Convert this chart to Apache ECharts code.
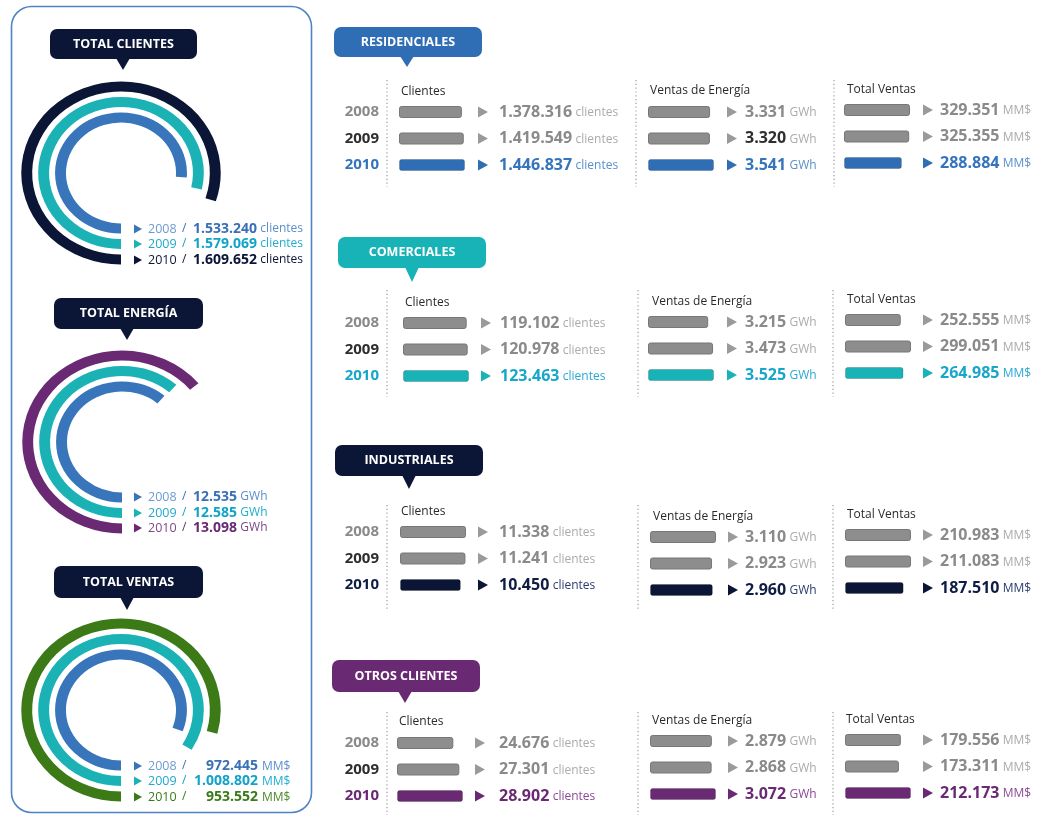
<!DOCTYPE html>
<html>
<head>
<meta charset="utf-8">
<script src="https://cdn.jsdelivr.net/npm/echarts@6/dist/echarts.min.js"></script>
<style>
  html, body { margin: 0; padding: 0; background: #ffffff; }
  #main { width: 1038px; height: 815px; }
</style>
</head>
<body>
<div id="main"></div>
<script>
// ---- data ----
const years = ['2008', '2009', '2010'];

// company totals (rings on the left)
const totalClientes = [1533240, 1579069, 1609652];
const totalEnergia = [12535, 12585, 13098];   // GWh
const totalVentas = [972445, 1008802, 953552]; // MM$

// per segment: clients, energy sales (GWh), total sales (MM$)
const segmentNames = ['RESIDENCIALES', 'COMERCIALES', 'INDUSTRIALES', 'OTROS CLIENTES'];
const resClientes = [1378316, 1419549, 1446837];
const resEnergia = [3331, 3320, 3541];
const resVentas = [329351, 325355, 288884];
const comClientes = [119102, 120978, 123463];
const comEnergia = [3215, 3473, 3525];
const comVentas = [252555, 299051, 264985];
const indClientes = [11338, 11241, 10450];
const indEnergia = [3110, 2923, 2960];
const indVentas = [210983, 211083, 187510];
const otrClientes = [24676, 27301, 28902];
const otrEnergia = [2879, 2868, 3072];
const otrVentas = [179556, 173311, 212173];

const columnTitles = ['Clientes', 'Ventas de Energía', 'Total Ventas'];
const units = ['clientes', 'GWh', 'MM$'];
const ringTitles = ['TOTAL CLIENTES', 'TOTAL ENERGÍA', 'TOTAL VENTAS'];

// ---- styling / layout ----
const FONT = '"Open Sans", "Noto Sans", sans-serif';
const GRAY_BAR = '#8d8d8d';
const GRAY_TXT = '#8a8a8a';
const GRAY_UNIT = '#ababab';
const DARK_TXT = '#2e2e2e';

const segColors = [
  { main: '#2f6db5', text: '#3574bd', unit: '#5a8fcc' },
  { main: '#17b3b7', text: '#18a6c9', unit: '#2aa8d4' },
  { main: '#0b1535', text: '#0f1d45', unit: '#2a3c70' },
  { main: '#6a2a73', text: '#6a2a73', unit: '#8a4a94' }
];
const segData = [
  [resClientes, resEnergia, resVentas],
  [comClientes, comEnergia, comVentas],
  [indClientes, indEnergia, indVentas],
  [otrClientes, otrEnergia, otrVentas]
];

const ROW_STEP = 26.5;
const BAR_SPAN = 66;
const segLayout = [
  { head: { x: 334, y: 27, w: 148, h: 30, tipX: 407, tipY: 67 }, lineY: [80, 187], cols: [
    { line: 387, titleX: 401, titleY: 92, barX: 399, rowY: 112, tri: 478, val: 499 },
    { line: 636, titleX: 650, titleY: 91, barX: 648, rowY: 112, tri: 727, val: 745 },
    { line: 834, titleX: 847, titleY: 90, barX: 844, rowY: 110, tri: 923, val: 940 }] },
  { head: { x: 338, y: 237, w: 148, h: 31, tipX: 412, tipY: 282 }, lineY: [290, 397], cols: [
    { line: 387, titleX: 405, titleY: 303, barX: 403, rowY: 323, tri: 481, val: 500 },
    { line: 638, titleX: 652, titleY: 302, barX: 648, rowY: 322, tri: 727, val: 745 },
    { line: 833, titleX: 847, titleY: 300, barX: 845, rowY: 320, tri: 923, val: 940 }] },
  { head: { x: 335, y: 445, w: 148, h: 31, tipX: 409, tipY: 489 }, lineY: [505, 610], cols: [
    { line: 387, titleX: 401, titleY: 512, barX: 400, rowY: 532, tri: 478, val: 499 },
    { line: 638, titleX: 653, titleY: 517, barX: 650, rowY: 537, tri: 728, val: 745 },
    { line: 833, titleX: 847, titleY: 515, barX: 845, rowY: 535, tri: 923, val: 940 }] },
  { head: { x: 332, y: 660, w: 148, h: 32, tipX: 405, tipY: 703 }, lineY: [712, 815], cols: [
    { line: 387, titleX: 399, titleY: 722, barX: 397, rowY: 743, tri: 475, val: 499 },
    { line: 638, titleX: 652, titleY: 721, barX: 650, rowY: 741, tri: 728, val: 745 },
    { line: 833, titleX: 846, titleY: 720, barX: 845, rowY: 740, tri: 923, val: 940 }] }
];

// rings: 2008 inner, 2009 middle, 2010 outer
const ringColors2008 = { ring: '#3875ba', year: '#6f9bd0', value: '#3a70b5', unit: '#5b8fcc' };
const ringColors2009 = { ring: '#1bb2b6', year: '#1fa9d0', value: '#12a4c8', unit: '#21aed0' };
const ringOuter = [
  { ring: '#0b1535', year: '#0b1535', value: '#0b1535', unit: '#0b1535' },
  { ring: '#6a2a73', year: '#7a4a84', value: '#6a2a73', unit: '#7a4a84' },
  { ring: '#3b7a17', year: '#3b7a17', value: '#3b7a17', unit: '#4b8a27' }
];
const ringSets = [totalClientes, totalEnergia, totalVentas];
const ringMax = [2012000, 20500, 1204500];
const RING_STRETCH = 1.09;   // rings are drawn slightly wider than tall
const RING_THICK = 10;
const ringLayout = [
  { cx: 121, cy: 173, head: { x: 50, y: 29, w: 147, h: 30, tipX: 123, tipY: 70 }, rows: [229, 244, 260], rightAlign: false },
  { cx: 122, cy: 442, head: { x: 54, y: 298, w: 149, h: 31, tipX: 127, tipY: 340 }, rows: [497, 513, 528], rightAlign: false },
  { cx: 121, cy: 710, head: { x: 54, y: 566, w: 149, h: 32, tipX: 127, tipY: 610 }, rows: [766, 781, 797], rightAlign: true }
];

function fmt(n) {
  return String(n).replace(/\B(?=(\d{3})+(?!\d))/g, '.');
}

// ---- graphic helpers ----
const graphics = [];

function callout(h, color, text) {
  graphics.push({
    type: 'rect', shape: { x: h.x, y: h.y, width: h.w, height: h.h, r: 7 },
    style: { fill: color }, z: 10
  });
  graphics.push({
    type: 'polygon',
    shape: { points: [[h.tipX - 7, h.y + h.h - 1], [h.tipX + 7, h.y + h.h - 1], [h.tipX, h.tipY]] },
    style: { fill: color }, z: 10
  });
  graphics.push({
    type: 'text', x: h.x + h.w / 2, y: h.y + h.h / 2, z: 11,
    style: { text: text, fill: '#ffffff', font: 'bold 12.5px ' + FONT, align: 'center', verticalAlign: 'middle' }
  });
}

function triangle(x, y, size, color) {
  graphics.push({
    type: 'polygon',
    shape: { points: [[x, y - size * 0.55], [x + size, y], [x, y + size * 0.55]] },
    style: { fill: color }, z: 10
  });
}

// left panel frame
graphics.push({
  type: 'rect', shape: { x: 11.5, y: 6.5, width: 300, height: 806, r: 20 },
  style: { fill: 'none', stroke: '#4f83c4', lineWidth: 1.6 }, z: 1
});

// ---- option pieces ----
const grids = [], xAxes = [], yAxes = [], series = [];
const polars = [], angleAxes = [], radiusAxes = [];

// ring arcs: each arc starts at the bottom and sweeps clockwise to the
// point the polar axes give for its value
function ringRenderer(palette) {
  return function (params, api) {
    const cs = params.coordSys;
    const idx = api.value(0);
    const pt = api.coord([idx, api.value(1)]);
    const dx = pt[0] - cs.cx, dy = pt[1] - cs.cy;
    const rr = Math.sqrt(dx * dx + dy * dy);
    let end = Math.atan2(dy, dx);
    while (end <= Math.PI / 2 + 1e-6) end += Math.PI * 2;
    return {
      type: 'sector',
      shape: {
        cx: cs.cx, cy: cs.cy, r0: rr - RING_THICK / 2, r: rr + RING_THICK / 2,
        startAngle: Math.PI / 2, endAngle: end, clockwise: true
      },
      originX: cs.cx, originY: cs.cy, scaleX: RING_STRETCH,
      style: { fill: palette[idx].ring }
    };
  };
}

ringSets.forEach((vals, p) => {
  const L = ringLayout[p];
  const palette = [ringColors2008, ringColors2009, ringOuter[p]];
  callout(L.head, '#0b1535', ringTitles[p]);
  polars.push({ center: [L.cx, L.cy], radius: [47.75, 94.25] });
  angleAxes.push({ polarIndex: p, type: 'value', min: 0, max: ringMax[p], startAngle: 270, clockwise: true, show: false });
  radiusAxes.push({ polarIndex: p, type: 'category', data: years, show: false });
  series.push({
    type: 'custom', coordinateSystem: 'polar', polarIndex: p, silent: true,
    data: vals.map((v, i) => [i, v]),
    encode: { radius: 0, angle: 1 },
    renderItem: ringRenderer(palette)
  });
  vals.forEach((v, i) => {
    const c = palette[i];
    const y = L.rows[i];
    triangle(134, y, 8, c.ring);
    graphics.push({
      type: 'text', x: 148, y: y, z: 10,
      style: { text: years[i], fill: c.year, font: '12.5px ' + FONT, verticalAlign: 'middle' }
    });
    graphics.push({
      type: 'text', x: 182, y: y, z: 10,
      style: { text: '/', fill: c.value, font: '12px ' + FONT, verticalAlign: 'middle' }
    });
    if (L.rightAlign) {
      graphics.push({
        type: 'text', x: 258, y: y, z: 10,
        style: { text: fmt(v), fill: c.value, font: 'bold 14px ' + FONT, align: 'right', verticalAlign: 'middle' }
      });
      graphics.push({
        type: 'text', x: 262, y: y + 0.5, z: 10,
        style: { text: units[p], fill: c.unit, font: '12px ' + FONT, verticalAlign: 'middle' }
      });
    } else {
      graphics.push({
        type: 'text', x: 193, y: y, z: 10,
        style: {
          text: '{v|' + fmt(v) + '} {u|' + units[p] + '}', verticalAlign: 'middle',
          rich: {
            v: { fill: c.value, font: 'bold 14px ' + FONT, verticalAlign: 'bottom' },
            u: { fill: c.unit, font: '12px ' + FONT, verticalAlign: 'bottom', padding: [0, 0, 1, 0] }
          }
        }
      });
    }
  });
});

// segment bar panels
segData.forEach((cols, s) => {
  const L = segLayout[s];
  const C = segColors[s];
  callout(L.head, C.main, segmentNames[s]);
  cols.forEach((vals, c) => {
    const col = L.cols[c];
    const k = grids.length;
    graphics.push({
      type: 'line', shape: { x1: col.line, y1: L.lineY[0], x2: col.line, y2: L.lineY[1] },
      style: { stroke: '#a9a9a9', lineWidth: 1.4, lineDash: [1.2, 2.6] }, z: 5
    });
    graphics.push({
      type: 'text', x: col.titleX, y: col.titleY, z: 10,
      style: { text: columnTitles[c], fill: '#2a2a2a', font: '12px ' + FONT, verticalAlign: 'middle' }
    });
    grids.push({ left: col.barX, top: col.rowY - ROW_STEP / 2, width: BAR_SPAN, height: ROW_STEP * 3 });
    xAxes.push({ gridIndex: k, type: 'value', min: 0, max: 'dataMax', show: false });
    yAxes.push({
      gridIndex: k, type: 'category', data: years, inverse: true, show: c === 0,
      axisLine: { show: false }, axisTick: { show: false }, splitLine: { show: false },
      axisLabel: {
        margin: col.barX - 379,
        formatter: (v, i) => '{y' + i + '|' + v + '}',
        rich: {
          y0: { color: GRAY_TXT, fontFamily: FONT, fontWeight: 'bold', fontSize: 15 },
          y1: { color: DARK_TXT, fontFamily: FONT, fontWeight: 'bold', fontSize: 15 },
          y2: { color: C.text, fontFamily: FONT, fontWeight: 'bold', fontSize: 15 }
        }
      }
    });
    series.push({
      type: 'bar', xAxisIndex: k, yAxisIndex: k, barWidth: 12, silent: true,
      data: vals.map((v, i) => ({
        value: v,
        itemStyle: {
          color: i === 2 ? C.main : GRAY_BAR,
          borderColor: i === 2 ? 'rgba(0,0,0,0.18)' : '#777777',
          borderWidth: 1, borderRadius: 2
        }
      }))
    });
    vals.forEach((v, i) => {
      const y = col.rowY + ROW_STEP * i;
      const latest = i === 2;
      // energy 2009 figure for the residential segment is printed in dark ink
      const valColor = latest ? C.text : (s === 0 && c === 1 && i === 1 ? DARK_TXT : GRAY_TXT);
      triangle(col.tri, y, 10, latest ? C.main : '#9a9a9a');
      graphics.push({
        type: 'text', x: col.val, y: y, z: 10,
        style: {
          text: '{v|' + fmt(v) + '} {u|' + units[c] + '}', verticalAlign: 'middle',
          rich: {
            v: { fill: valColor, font: 'bold 16px ' + FONT, verticalAlign: 'bottom' },
            u: { fill: latest ? C.unit : GRAY_UNIT, font: '12px ' + FONT, verticalAlign: 'bottom', padding: [0, 0, 1, 0] }
          }
        }
      });
    });
  });
});

const chart = echarts.init(document.getElementById('main'), null, { renderer: 'canvas' });
chart.setOption({
  animation: false,
  backgroundColor: '#ffffff',
  grid: grids,
  xAxis: xAxes,
  yAxis: yAxes,
  polar: polars,
  angleAxis: angleAxes,
  radiusAxis: radiusAxes,
  series: series,
  graphic: { elements: graphics }
});
</script>
</body>
</html>
